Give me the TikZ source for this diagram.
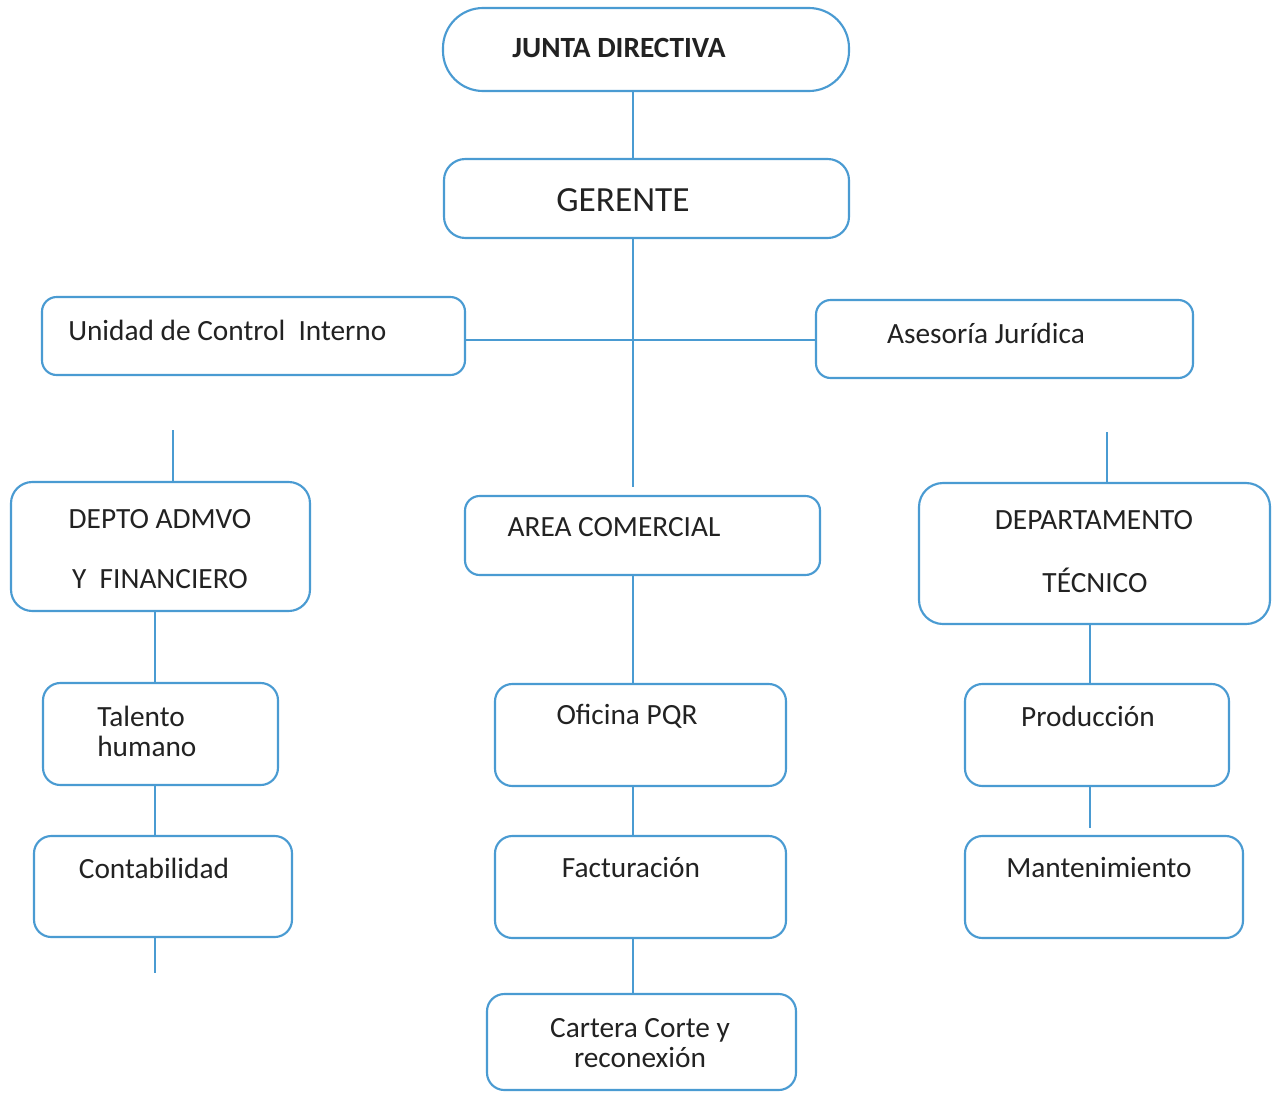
\documentclass[tikz,border=0pt]{standalone}
\usepackage{fontspec}
\setmainfont{Carlito}
\usetikzlibrary{fit}
\definecolor{boxblue}{HTML}{4A9BD2}
\definecolor{txt}{HTML}{222222}
\tikzset{
  box/.style={draw=boxblue, line width=1.6pt, inner sep=0pt, rounded corners=#1},
  box/.default=12pt,
  conn/.style={draw=boxblue, line width=1.6pt},
  lbl/.style={text=txt, inner sep=0pt, font=\fontsize{22}{22.5}\selectfont},
}
\begin{document}
\begin{tikzpicture}[x=0.75pt,y=-0.75pt]
\useasboundingbox[fill=white] (0,0) rectangle (1279,1093);
% boxes
\node[box=30pt, fit={(443,8) (849,91)}] (jd) {};
\node[box=16pt, fit={(444,159) (849,238)}] (ger) {};
\node[box=11pt, fit={(42,297) (465,375)}] (uci) {};
\node[box=11pt, fit={(816,300) (1193,378)}] (aj) {};
\node[box=16pt, fit={(11,482) (310,611)}] (da) {};
\node[box=11pt, fit={(465,496) (820,575)}] (ac) {};
\node[box=18pt, fit={(919,483) (1270,624)}] (dt) {};
\node[box=13pt, fit={(43,683) (278,785)}] (th) {};
\node[box=13pt, fit={(34,836) (292,937)}] (co) {};
\node[box=13pt, fit={(495,684) (786,786)}] (pqr) {};
\node[box=13pt, fit={(495,836) (786,938)}] (fa) {};
\node[box=13pt, fit={(487,994) (796,1090)}] (ca) {};
\node[box=13pt, fit={(965,684) (1229,786)}] (pr) {};
\node[box=13pt, fit={(965,836) (1243,938)}] (ma) {};
% texts
\node[lbl, font=\fontsize{22}{22.5}\selectfont\bfseries] (tjd) at (619,48) {JUNTA DIRECTIVA};
\node[lbl, font=\fontsize{26.5}{28}\selectfont] (tger) at (623,200) {GERENTE};
\node[lbl, anchor=west] (tuci) at (68,330) {Unidad de Control\ \ Interno};
\node[lbl] (taj) at (986,333) {Asesoría Jurídica};
\node[lbl] (tda1) at (160,519) {DEPTO ADMVO};
\node[lbl] (tda2) at (160,579) {Y\ \ FINANCIERO};
\node[lbl] (tac) at (614,527) {AREA COMERCIAL};
\node[lbl] (tdt1) at (1094,520) {DEPARTAMENTO};
\node[lbl] (tdt2) at (1095,580) {TÉCNICO};
\node[lbl, anchor=west, align=left] (tth) at (97,731) {Talento\\humano};
\node[lbl] (tco) at (154,868) {Contabilidad};
\node[lbl] (tpqr) at (627,716) {Oficina PQR};
\node[lbl] (tfa) at (631,868) {Facturación};
\node[lbl, align=center] (tca) at (640,1043) {Cartera Corte y\\reconexión};
\node[lbl] (tpr) at (1088,716) {Producción};
\node[lbl] (tma) at (1099,868) {Mantenimiento};
% helper coordinates
\coordinate (cx) at (633,0);
\coordinate (lx) at (155,0);
\coordinate (rx) at (1090,0);
\coordinate (hy) at (0,340);
\coordinate (gend) at (633,487);
\coordinate (ls) at (173,430);
\coordinate (rs) at (1107,432);
\coordinate (lend) at (155,973);
\coordinate (rend) at (1090,828);
% connectors
\draw[conn] (jd.south -| cx) -- (ger.north -| cx);
\draw[conn] (ger.south -| cx) -- (gend);
\draw[conn] (uci.east |- hy) -- (aj.west |- hy);
\draw[conn] (ls) -- (da.north -| ls);
\draw[conn] (rs) -- (dt.north -| rs);
\draw[conn] (da.south -| lx) -- (th.north -| lx);
\draw[conn] (th.south -| lx) -- (co.north -| lx);
\draw[conn] (co.south -| lx) -- (lend);
\draw[conn] (ac.south -| cx) -- (pqr.north -| cx);
\draw[conn] (pqr.south -| cx) -- (fa.north -| cx);
\draw[conn] (fa.south -| cx) -- (ca.north -| cx);
\draw[conn] (dt.south -| rx) -- (pr.north -| rx);
\draw[conn] (pr.south -| rx) -- (rend);
\end{tikzpicture}
\end{document}
